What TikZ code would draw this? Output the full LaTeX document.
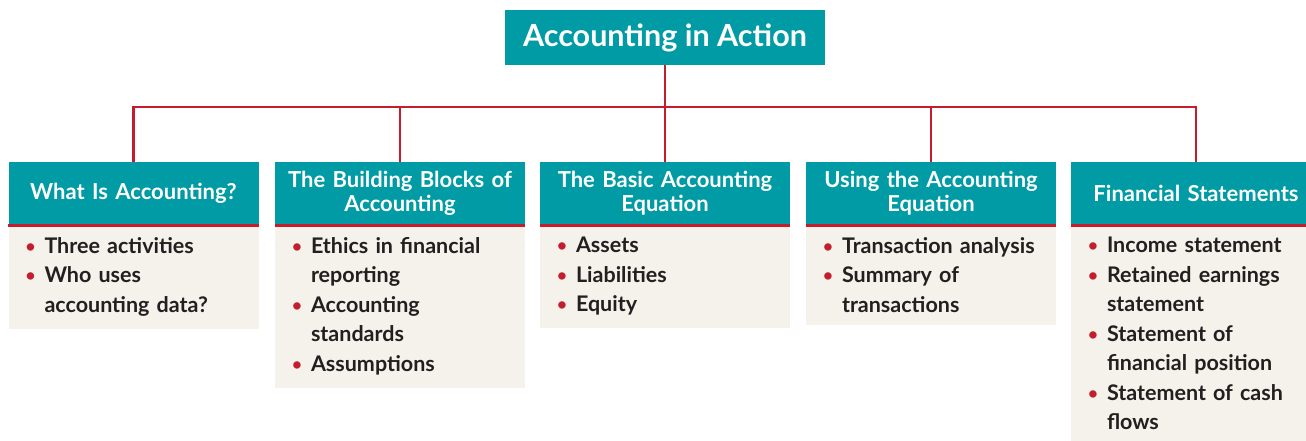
\documentclass[tikz,border=0pt]{standalone}
\usepackage{fontspec}
\setmainfont{Lato}
\usepackage{xcolor}
\usetikzlibrary{positioning,calc}
\definecolor{acteal}{HTML}{009BA4}
\definecolor{acred}{HTML}{C41E2E}
\definecolor{acbeige}{HTML}{F5F2EB}
\definecolor{acink}{HTML}{231F20}
\newcommand{\bul}{\makebox[17pt][l]{\hspace*{-2pt}\raisebox{1pt}{\fontsize{17}{17}\selectfont\textcolor{acred}{\textbullet}}}}
\newcommand{\ind}{\hspace*{17pt}}

\begin{document}
\begin{tikzpicture}[x=1pt,y=-1pt]
	\tikzstyle{every node} = [inner sep=0pt]
	\tikzstyle{title} = [fill=acteal, text=white, minimum width=320pt, minimum height=55pt, font=\bfseries\fontsize{30.5}{34}\selectfont]
	\tikzstyle{head} = [fill=acteal, text=white, minimum width=250pt, minimum height=62pt, text width=240pt, align=center, font=\bfseries\fontsize{22}{24}\selectfont]
	\tikzstyle{body} = [fill=acbeige, text=acink, anchor=north, inner xsep=19pt, inner ysep=13pt, text width=212pt, align=left, font=\bfseries\fontsize{21.5}{29.5}\selectfont]
	\tikzstyle{link} = [draw=acred, line width=2.5pt]
	\tikzstyle{underline} = [draw=acred, line width=3pt]
\clip (0,0) rectangle (1306,441);
\fill[white] (0,0) rectangle (1306,441);

\node[title] (0) at (665,37.5) {Accounting in Action};
\coordinate (bar) at (665,107);

\node[body] (b1) at (133.5,224) {\bul Three activities\\ \bul Who uses\\ \ind accounting~data?};
\node[body] (b2) at (400,224) {\bul Ethics~in~financial\\ \ind reporting\\ \bul Accounting\\ \ind standards\\ \bul Assumptions};
\node[body] (b3) at (665,224) {\bul Assets\\ \bul Liabilities\\ \bul Equity};
\node[body] (b4) at (931,224) {\bul Transaction~analysis\\ \bul Summary of\\ \ind transactions};
\node[body] (b5) at (1196,224) {\bul Income~statement\\ \bul Retained~earnings\\ \ind statement\\ \bul Statement of\\ \ind financial~position\\ \bul Statement~of~cash\\ \ind flows};

\node[head] (1) at (133.5,193) {What Is Accounting?};
\node[head] (2) at (400,193) {The Building Blocks of\\Accounting};
\node[head] (3) at (665,193) {The Basic Accounting\\Equation};
\node[head] (4) at (931,193) {Using the Accounting\\Equation};
\node[head] (5) at (1196,193) {Financial Statements};

	\foreach \h in {1,...,5}
		\path[underline] ([yshift=-1.5pt]\h.south west) -- ([yshift=-1.5pt]\h.south east);

	\path[link] (0.south) -- (bar);
	\path[link] (bar) -| (1.north);
	\path[link] (bar) -| (2.north);
	\path[link] (bar) -- (3.north);
	\path[link] (bar) -| (4.north);
	\path[link] (bar) -| (5.north);
\end{tikzpicture}
\end{document}
